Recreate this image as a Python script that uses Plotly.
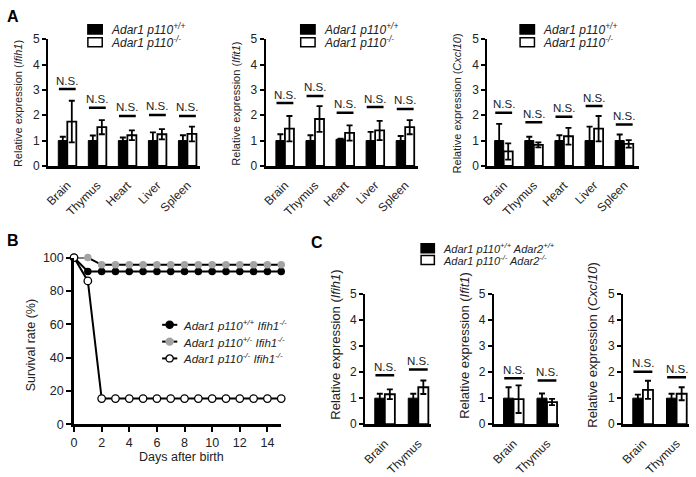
import plotly.graph_objects as go

W, H = 696, 477


def fx(p):
    return p / W


def fy(p):
    return 1 - p / H


FONT = "Liberation Sans, Arial, sans-serif"
TXT = "#222222"

# ---------------- data ----------------
tissues_a = ["Brain", "Thymus", "Heart", "Liver", "Spleen"]
tissues_c = ["Brain", "Thymus"]

# Panel A - Ifih1
a1_wt = [1.0, 1.0, 1.0, 1.0, 1.0]
a1_wt_sd = [0.15, 0.20, 0.12, 0.32, 0.21]
a1_ko = [1.75, 1.53, 1.21, 1.25, 1.26]
a1_ko_sd = [0.82, 0.28, 0.19, 0.20, 0.29]
a1_ns = [3.03, 2.29, 1.97, 2.01, 1.97]

# Panel A - Ifit1
a2_wt = [1.0, 1.0, 1.05, 1.0, 1.0]
a2_wt_sd = [0.25, 0.21, 0.03, 0.34, 0.18]
a2_ko = [1.47, 1.85, 1.30, 1.40, 1.53]
a2_ko_sd = [0.50, 0.51, 0.30, 0.38, 0.28]
a2_ns = [2.48, 2.76, 2.10, 2.32, 2.25]

# Panel A - Cxcl10
a3_wt = [1.0, 1.0, 1.0, 1.0, 1.0]
a3_wt_sd = [0.66, 0.15, 0.21, 0.55, 0.24]
a3_ko = [0.57, 0.83, 1.17, 1.47, 0.87]
a3_ko_sd = [0.32, 0.10, 0.33, 0.50, 0.15]
a3_ns = [2.10, 1.72, 1.94, 2.36, 1.63]

# Panel C
c1_wt = [1.0, 1.0]
c1_wt_sd = [0.17, 0.17]
c1_ko = [1.15, 1.42]
c1_ko_sd = [0.19, 0.26]
c1_ns = [1.88, 2.10]

c2_wt = [1.0, 1.0]
c2_wt_sd = [0.42, 0.18]
c2_ko = [0.96, 0.85]
c2_ko_sd = [0.53, 0.12]
c2_ns = [1.77, 1.68]

c3_wt = [1.0, 1.0]
c3_wt_sd = [0.14, 0.17]
c3_ko = [1.32, 1.17]
c3_ko_sd = [0.35, 0.25]
c3_ns = [2.02, 1.80]

# Panel B - survival
days = [0, 1, 2, 3, 4, 5, 6, 7, 8, 9, 10, 11, 12, 13, 14, 15]
surv_wt = [100, 91.7, 91.7, 91.7, 91.7, 91.7, 91.7, 91.7, 91.7, 91.7, 91.7, 91.7, 91.7, 91.7, 91.7, 91.7]
surv_het = [100, 100, 95.7, 95.7, 95.7, 95.7, 95.7, 95.7, 95.7, 95.7, 95.7, 95.7, 95.7, 95.7, 95.7, 95.7]
surv_ko = [100, 86, 15.4, 15.4, 15.4, 15.4, 15.4, 15.4, 15.4, 15.4, 15.4, 15.4, 15.4, 15.4, 15.4, 15.4]

genes = ["Ifih1", "Ifit1", "Cxcl10"]

# ---------------- figure ----------------
fig = go.Figure()
shapes = []
annotations = []

bar_panels = [
    # (axis suffix, cats, wt, wt_sd, ko, ko_sd, ns, gene, xdom(px), ydom(px), xrange, title_x, title_y, title_size)
    ("", tissues_a, a1_wt, a1_wt_sd, a1_ko, a1_ko_sd, a1_ns, genes[0], (41.5, 194.7), (33.5, 165.5), [-0.64, 4.41], 11.7, 100.5, 11),
    ("2", tissues_a, a2_wt, a2_wt_sd, a2_ko, a2_ko_sd, a2_ns, genes[1], (261.3, 414.7), (33.5, 165.5), [-0.64, 4.41], 231.5, 100.5, 11),
    ("3", tissues_a, a3_wt, a3_wt_sd, a3_ko, a3_ko_sd, a3_ns, genes[2], (485.3, 638.7), (33.5, 165.5), [-0.54, 4.50], 455.5, 100.5, 11),
    ("5", tissues_c, c1_wt, c1_wt_sd, c1_ko, c1_ko_sd, c1_ns, genes[0], (361.7, 428.0), (299.0, 434.5), [-0.59, 1.37], 332.0, 352.0, 13),
    ("6", tissues_c, c2_wt, c2_wt_sd, c2_ko, c2_ko_sd, c2_ns, genes[1], (491.8, 558.0), (299.0, 434.5), [-0.59, 1.37], 462.5, 352.0, 13),
    ("7", tissues_c, c3_wt, c3_wt_sd, c3_ko, c3_ko_sd, c3_ns, genes[2], (622.3, 689.0), (299.0, 434.5), [-0.59, 1.37], 591.7, 352.0, 13),
]

for (sfx, cats, wt, wt_sd, ko, ko_sd, ns, gene, xd, yd, xr, tx, ty, tsz) in bar_panels:
    xa = "x" + sfx
    ya = "y" + sfx
    fig.add_trace(go.Bar(
        x=cats, y=wt, xaxis=xa, yaxis=ya, showlegend=False,
        marker=dict(color="black", line=dict(color="black", width=1)),
        error_y=dict(type="data", array=wt_sd, color="black", thickness=1.8, width=3),
    ))
    fig.add_trace(go.Bar(
        x=cats, y=ko, xaxis=xa, yaxis=ya, showlegend=False,
        marker=dict(color="white", line=dict(color="black", width=1.8)),
        error_y=dict(type="data", array=ko_sd, color="black", thickness=1.8, width=3),
    ))
    for i, v in enumerate(ns):
        shapes.append(dict(type="line", xref=xa, yref=ya, x0=i - 0.28, x1=i + 0.28,
                           y0=v, y1=v, line=dict(color="black", width=2.5)))
        annotations.append(dict(x=cats[i], y=v, xref=xa, yref=ya, text="N.S.",
                                showarrow=False, xanchor="center", yanchor="middle", yshift=8.5,
                                font=dict(family=FONT, size=11.5, color=TXT)))
    axkey = "xaxis" + sfx
    aykey = "yaxis" + sfx
    fig.update_layout(**{
        axkey: dict(domain=[fx(xd[0]), fx(xd[1])], anchor=ya, range=xr, type="category",
                    showline=True, linecolor="black", linewidth=2.5,
                    ticks="outside", ticklen=5, tickcolor="rgba(0,0,0,0)",
                    tickangle=-45, tickfont=dict(family=FONT, size=12, color=TXT),
                    showgrid=False, zeroline=False, fixedrange=True),
        aykey: dict(domain=[fy(yd[1]), fy(yd[0])], anchor=xa, range=[0, 5],
                    tickvals=[0, 1, 2, 3, 4, 5], showline=True, linecolor="black",
                    linewidth=2, ticks="outside", ticklen=4, tickwidth=1.5,
                    tickcolor="black", tickfont=dict(family=FONT, size=12, color=TXT),
                    showgrid=False, zeroline=False, fixedrange=True),
    })
    annotations.append(dict(x=fx(tx), y=fy(ty), xref="paper", yref="paper",
                            text="Relative expression (<i>%s</i>)" % gene,
                            textangle=-90, showarrow=False, xanchor="center", yanchor="middle",
                            font=dict(family=FONT, size=tsz, color=TXT)))

# ---- Panel B survival ----
fig.add_trace(go.Scatter(
    x=days, y=surv_wt, xaxis="x4", yaxis="y4", mode="lines+markers", showlegend=False,
    cliponaxis=False, line=dict(color="black", width=2),
    marker=dict(size=7.5, color="black", line=dict(width=0)),
))
fig.add_trace(go.Scatter(
    x=days, y=surv_het, xaxis="x4", yaxis="y4", mode="lines+markers", showlegend=False,
    cliponaxis=False, line=dict(color="black", width=2),
    marker=dict(size=7.5, color="#a3a3a3", line=dict(width=0)),
))
fig.add_trace(go.Scatter(
    x=days, y=surv_ko, xaxis="x4", yaxis="y4", mode="lines+markers", showlegend=False,
    cliponaxis=False, line=dict(color="black", width=2),
    marker=dict(size=7.5, color="white", line=dict(color="black", width=1.3)),
))
fig.update_layout(
    xaxis4=dict(domain=[fx(67.7), fx(277)], anchor="y4", range=[0, 15],
                tickvals=[0, 2, 4, 6, 8, 10, 12, 14], showline=True, linecolor="black",
                linewidth=2.5, ticks="outside", ticklen=5, tickwidth=1.5, tickcolor="black",
                tickfont=dict(family=FONT, size=12.5, color=TXT), showgrid=False,
                zeroline=False, fixedrange=True),
    yaxis4=dict(domain=[fy(434.5), fy(261)], anchor="x4", range=[0, 100],
                tickvals=[0, 20, 40, 60, 80, 100], showline=True, linecolor="black",
                linewidth=2.5, ticks="outside", ticklen=5, tickwidth=1.5, tickcolor="black",
                tickfont=dict(family=FONT, size=12.5, color=TXT), showgrid=False,
                zeroline=False, fixedrange=True),
)
annotations.append(dict(x=fx(176), y=fy(469), xref="paper", yref="paper", text="Days after birth",
                        showarrow=False, xanchor="center", yanchor="middle",
                        font=dict(family=FONT, size=12.5, color=TXT)))
annotations.append(dict(x=fx(24.5), y=fy(352), xref="paper", yref="paper", text="Survival rate (%)",
                        textangle=-90, showarrow=False, xanchor="center", yanchor="middle",
                        font=dict(family=FONT, size=12.5, color=TXT)))

# B legend (drawn keys)
b_leg = [
    ("<i>Adar1 p110<sup>+/+</sup> Ifih1<sup>-/-</sup></i>", "black", "black", 331.0),
    ("<i>Adar1 p110<sup>+/-</sup> Ifih1<sup>-/-</sup></i>", "#a3a3a3", "#a3a3a3", 348.5),
    ("<i>Adar1 p110<sup>-/-</sup> Ifih1<sup>-/-</sup></i>", "white", "black", 366.0),
]
for label, fill, edge, yy in b_leg:
    shapes.append(dict(type="line", xref="paper", yref="paper", x0=fx(156.7), x1=fx(172),
                       y0=fy(yy), y1=fy(yy), line=dict(color="black", width=2)))
    shapes.append(dict(type="circle", xref="paper", yref="paper", x0=fx(164.3 - 3.7), x1=fx(164.3 + 3.7),
                       y0=fy(yy + 3.7), y1=fy(yy - 3.7), fillcolor=fill,
                       line=dict(color=edge, width=1.3)))
    annotations.append(dict(x=fx(176), y=fy(yy), xref="paper", yref="paper", text=label,
                            showarrow=False, xanchor="left", yanchor="middle",
                            font=dict(family=FONT, size=11.5, color=TXT)))

# A legends (drawn keys)
a_leg_labels = ["<i>Adar1 p110<sup>+/+</sup></i>", "<i>Adar1 p110<sup>-/-</sup></i>"]
for kx, tx0 in [(81.7, 103.3), (296.7, 318.3), (518.3, 539.0)]:
    for j, (lab, yy) in enumerate(zip(a_leg_labels, [23.3, 36.7])):
        shapes.append(dict(type="rect", xref="paper", yref="paper", x0=fx(kx), x1=fx(kx + 14.5),
                           y0=fy(yy + 4.8), y1=fy(yy - 4.8),
                           fillcolor="black" if j == 0 else "white",
                           line=dict(color="black", width=1.5)))
        annotations.append(dict(x=fx(tx0), y=fy(yy), xref="paper", yref="paper", text=lab,
                                showarrow=False, xanchor="left", yanchor="middle",
                                font=dict(family=FONT, size=12, color=TXT)))

# C legend
c_leg_labels = ["<i>Adar1 p110<sup>+/+</sup> Adar2<sup>+/+</sup></i>",
                "<i>Adar1 p110<sup>-/-</sup> Adar2<sup>-/-</sup></i>"]
for j, (lab, yy) in enumerate(zip(c_leg_labels, [251.3, 263.5])):
    shapes.append(dict(type="rect", xref="paper", yref="paper", x0=fx(418.3), x1=fx(431.7),
                       y0=fy(yy + 4.6), y1=fy(yy - 4.6),
                       fillcolor="black" if j == 0 else "white",
                       line=dict(color="black", width=1.5)))
    annotations.append(dict(x=fx(438.3), y=fy(yy), xref="paper", yref="paper", text=lab,
                            showarrow=False, xanchor="left", yanchor="middle",
                            font=dict(family=FONT, size=11, color=TXT)))

# panel letters
for letter, (lx, ly) in [("A", (6.5, 10)), ("B", (6.5, 243.5)), ("C", (313, 245))]:
    annotations.append(dict(x=fx(lx), y=fy(ly), xref="paper", yref="paper", text="<b>%s</b>" % letter,
                            showarrow=False, xanchor="center", yanchor="middle",
                            font=dict(family=FONT, size=16, color="black")))

fig.update_layout(
    width=W, height=H, margin=dict(l=0, r=0, t=0, b=0),
    paper_bgcolor="white", plot_bgcolor="white",
    barmode="group", bargap=0.4, bargroupgap=0,
    shapes=shapes, annotations=annotations, showlegend=False,
    font=dict(family=FONT, color=TXT),
)

fig.write_html(
    "out.html",
    config={"displayModeBar": False},
    post_script="document.body.style.margin='0';document.body.style.padding='0';"
                "document.body.style.overflow='hidden';",
)
